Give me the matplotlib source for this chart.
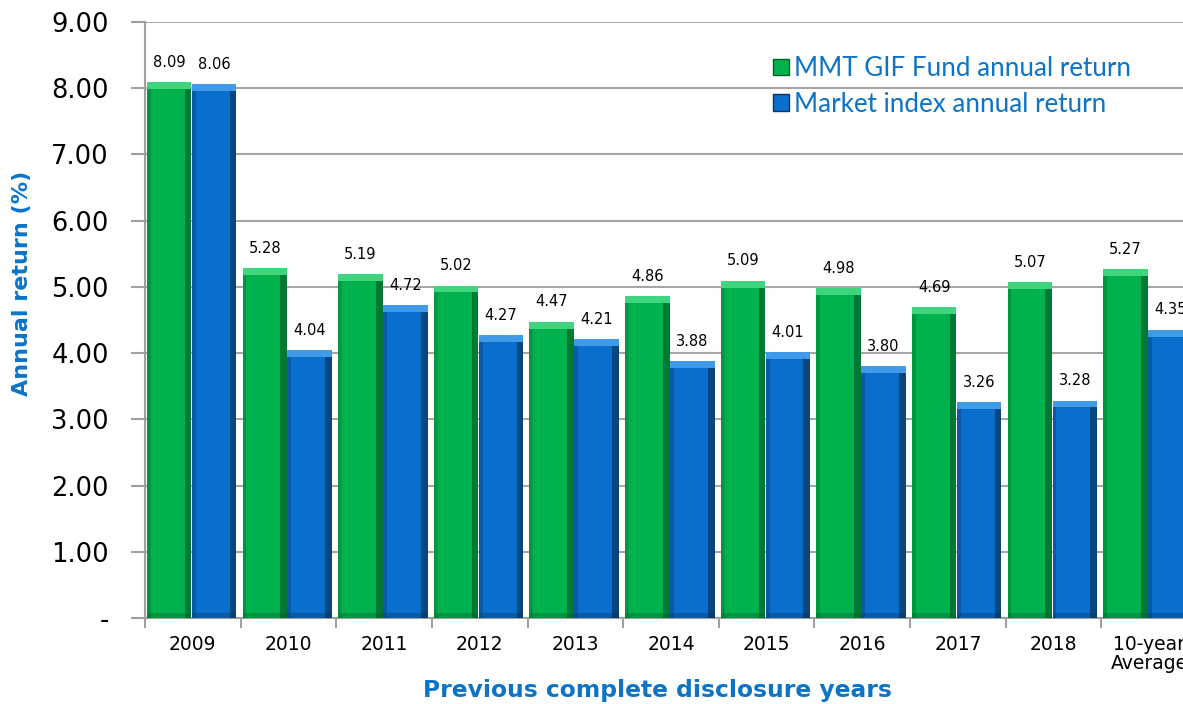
import numpy as np
import matplotlib.pyplot as plt
from matplotlib.patches import Patch

# ----------------------------------------------------------------------------------------------------------------------
# Data
# ----------------------------------------------------------------------------------------------------------------------
years = ['2009', '2010', '2011', '2012', '2013', '2014', '2015', '2016', '2017', '2018', '10-year\nAverage']
fund = [8.09, 5.28, 5.19, 5.02, 4.47, 4.86, 5.09, 4.98, 4.69, 5.07, 5.27]
market = [8.06, 4.04, 4.72, 4.27, 4.21, 3.88, 4.01, 3.80, 3.26, 3.28, 4.35]
yticks = [0, 1, 2, 3, 4, 5, 6, 7, 8, 9]

green, green_dark, green_light = '#00b24e', '#00612a', '#3fd47e'
blue, blue_dark, blue_light = '#0a6fcc', '#06355f', '#3f9be8'
txt_blue = '#0b74c8'

# ----------------------------------------------------------------------------------------------------------------------
# Plot
# ----------------------------------------------------------------------------------------------------------------------
fig = plt.figure(figsize=(11.83, 7.04), dpi=100)
ax = fig.add_axes([145 / 1183, 86 / 704, 1052 / 1183, 596 / 704])

x = np.arange(len(years))
w = 0.465


def bevel_bar(xc, vals, c, cd, cl):
    ax.bar(xc, vals, width=w, color=c, zorder=3, linewidth=0)
    # dark side strips
    ax.bar(xc - w / 2 + 0.02, vals, width=0.04, color=cd, alpha=0.35, zorder=4, linewidth=0)
    ax.bar(xc + w / 2 - 0.035, vals, width=0.07, color=cd, alpha=0.7, zorder=4, linewidth=0)
    # light top and dark bottom
    ax.bar(xc, [0.1] * len(vals), bottom=np.array(vals) - 0.1, width=w, color=cl, zorder=5, linewidth=0)
    ax.bar(xc, [0.08] * len(vals), width=w, color=cd, alpha=0.35, zorder=5, linewidth=0)


xg = x + 0.02 + w / 2
xb = x + 0.025 + w * 1.5
bevel_bar(xg, fund, green, green_dark, green_light)
bevel_bar(xb, market, blue, blue_dark, blue_light)

for xi, v in zip(xg, fund):
    ax.annotate('%.2f' % v, (xi, v), xytext=(0, 9), textcoords='offset points',
                ha='center', va='bottom', fontsize=10.5, clip_on=False)
for xi, v in zip(xb, market):
    ax.annotate('%.2f' % v, (xi, v), xytext=(0, 9), textcoords='offset points',
                ha='center', va='bottom', fontsize=10.5, clip_on=False)

ax.set_xlim(0, len(years))
ax.set_ylim(0, 9)
ax.set_yticks(yticks)
ax.set_yticklabels(['-'] + ['%.2f' % t for t in yticks[1:]], fontsize=18.5)
ax.set_xticks(x + 0.5)
ax.set_xticklabels(years, fontsize=13.5, linespacing=1.0)
ax.set_xticks(x, minor=True)
ax.tick_params(axis='x', which='major', length=0, pad=12)
ax.tick_params(axis='x', which='minor', length=7, width=1.5, color='#a0a0a0')
ax.tick_params(axis='y', length=10, width=1.5, color='#a0a0a0', pad=16)

ax.yaxis.grid(True, color='#a6a6a6', linewidth=1.5, zorder=0)
ax.set_axisbelow(True)
for s in ['top', 'right']:
    ax.spines[s].set_visible(False)
for s in ['left', 'bottom']:
    ax.spines[s].set_color('#a0a0a0')
    ax.spines[s].set_linewidth(1.5)

fig.text(22 / 1183, 1 - 283 / 704, 'Annual return (%)', rotation=90, ha='center', va='center',
         fontsize=16, fontweight='bold', color=txt_blue)
fig.text(657 / 1183, 1 - 690 / 704, 'Previous complete disclosure years', ha='center', va='center',
         fontsize=16.8, fontweight='bold', color=txt_blue)

handles = [Patch(facecolor=green, edgecolor=green_dark), Patch(facecolor=blue, edgecolor=blue_dark)]
leg = fig.legend(handles, ['MMT GIF Fund annual return', 'Market index annual return'],
                 loc='upper left', bbox_to_anchor=(760 / 1183, 1 - 43 / 704), frameon=False,
                 prop={'family': 'Lato', 'size': 18.7}, handlelength=0.6, handleheight=0.6,
                 handletextpad=0.2, labelspacing=0.42, borderpad=0)
for t in leg.get_texts():
    t.set_color(txt_blue)

plt.savefig('out.png', dpi=100)
